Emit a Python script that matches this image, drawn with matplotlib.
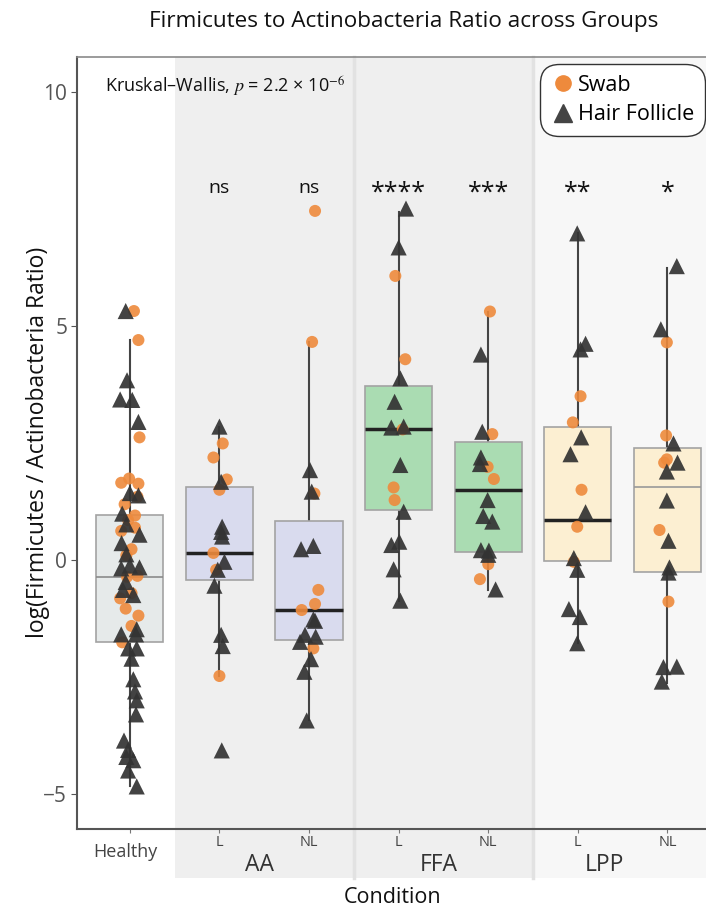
import matplotlib
matplotlib.use("Agg")
import matplotlib.pyplot as plt
import matplotlib.transforms as mtransforms
from matplotlib.lines import Line2D
from matplotlib.patches import Rectangle

plt.rcParams['font.family'] = ['Open Sans', 'DejaVu Sans']
plt.rcParams['mathtext.fontset'] = 'stix'

# groups in x order
groups = ["Healthy", "AA L", "AA NL", "FFA L", "FFA NL", "LPP L", "LPP NL"]
tick_labels = ["Healthy", "L", "NL", "L", "NL", "L", "NL"]
conditions = ["AA", "FFA", "LPP"]
signif = ["", "ns", "ns", "****", "***", "**", "*"]

# box statistics
q1 = [-1.76, -0.43, -1.72, 1.07, 0.18, -0.02, -0.25]
med = [-0.36, 0.15, -1.07, 2.79, 1.50, 0.85, 1.55]
q3 = [0.97, 1.55, 0.84, 3.72, 2.53, 2.85, 2.39]
whis_lo = [-4.84, -2.48, -3.43, -0.87, -0.64, -1.78, -2.64]
whis_hi = [4.70, 2.85, 4.66, 7.44, 5.31, 6.98, 6.23]

# swab samples (orange circles): values and horizontal offsets
swab_vals = [
    [5.32, 4.70, 2.62, 1.65, 1.74, 1.63, 1.35, 1.19, 0.95, 0.85, 0.69, 0.62,
     0.23, 0.10, -0.34, -0.36, -0.82, -0.71, -1.04, -1.19, -1.41, -1.76],
    [2.49, 2.19, 1.72, 1.50, 0.15, -0.21, -2.48],
    [7.46, 4.66, 1.42, -0.64, -0.94, -1.07, -1.89],
    [6.07, 4.29, 2.79, 1.55, 1.28],
    [5.31, 2.69, 1.99, 1.73, -0.09, -0.41],
    [3.50, 2.94, 1.50, 0.71, -0.04],
    [4.65, 2.66, 2.15, 2.08, 0.64, -0.89],
]
swab_dx = [
    [0.046, 0.096, 0.108, -0.096, -0.008, 0.096, 0.085, -0.058, 0.058, -0.019,
     0.058, -0.096, 0.019, -0.039, 0.085, -0.031, -0.108, 0.019, -0.046, 0.096,
     0.019, -0.085],
    [0.037, -0.067, 0.082, 0.0, -0.067, -0.037, 0.0],
    [0.067, 0.034, 0.060, 0.104, 0.067, -0.082, 0.048],
    [-0.037, 0.074, 0.045, -0.056, -0.045],
    [0.019, 0.045, -0.007, 0.063, 0.0, -0.093],
    [0.030, -0.056, 0.041, -0.007, -0.045],
    [-0.007, -0.015, -0.007, -0.037, -0.089, 0.011],
]

# hair follicle samples (dark triangles)
hair_vals = [
    [5.32, 3.84, 3.43, 3.42, 2.95, 1.43, 1.38, 0.99, 0.76, 0.54, 0.36, 0.12,
     -0.12, -0.18, -0.16, -0.47, -0.64, -0.75, -1.48, -1.59, -1.59, -1.89,
     -1.89, -2.11, -2.55, -2.81, -3.00, -3.30, -3.86, -4.06, -4.21, -4.28,
     -4.50, -4.84],
    [2.85, 1.67, 0.71, 0.60, 0.50, -0.04, -0.21, -0.55, -1.60, -1.84, -4.07],
    [1.92, 1.46, 0.23, 0.30, -1.27, -1.30, -1.60, -1.64, -1.75, -2.12, -2.39,
     -3.43],
    [7.51, 6.68, 3.88, 3.38, 2.83, 2.85, 2.03, 1.03, 0.32, 0.39, -0.20, -0.87],
    [4.39, 2.74, 2.19, 2.05, 1.28, 0.94, 0.82, 0.21, 0.20, 0.11, -0.63],
    [6.98, 4.62, 4.50, 2.62, 2.26, 1.02, 0.04, -0.21, -1.05, -1.22, -1.78],
    [6.28, 4.93, 2.49, 2.08, 1.89, 1.27, 0.41, -0.16, -0.27, -2.29, -2.28,
     -2.60],
]
hair_dx = [
    [-0.046, -0.031, -0.108, 0.027, 0.096, 0.0, 0.096, -0.085, -0.039, 0.108,
     -0.092, -0.039, 0.0, -0.096, 0.108, -0.046, -0.077, 0.039, 0.077, 0.069,
     -0.096, -0.019, 0.077, 0.019, 0.039, 0.058, 0.077, 0.069, -0.065, -0.019,
     -0.039, 0.039, -0.019, 0.077],
    [0.0, 0.019, 0.030, 0.019, 0.030, 0.056, -0.019, -0.056, 0.019, 0.037,
     0.026],
    [0.011, 0.030, -0.089, 0.048, 0.048, 0.067, -0.045, 0.074, -0.100, 0.022,
     -0.052, -0.026],
    [0.082, 0.0, 0.019, -0.045, -0.082, 0.056, 0.019, 0.056, -0.082, 0.007,
     -0.056, 0.019],
    [-0.082, -0.067, -0.082, -0.093, -0.007, -0.056, 0.045, -0.082, 0.007,
     0.0, 0.082],
    [-0.007, 0.086, 0.030, 0.037, -0.082, 0.086, -0.045, -0.007, -0.100,
     0.022, -0.007],
    [0.104, -0.074, 0.067, 0.112, -0.007, -0.007, 0.011, 0.022, 0.011, -0.045,
     0.104, -0.063],
]

box_colors = ["#e6eaea", "#d9dbee", "#d9dbee", "#aadcb2", "#aadcb2",
              "#fcefd2", "#fcefd2"]
median_colors = ["#8a8a8a", "#222222", "#222222", "#222222", "#222222",
                 "#222222", "#999999"]
median_widths = [1.2, 2.5, 2.5, 2.5, 2.5, 2.5, 1.2]

fig = plt.figure(figsize=(7.06, 9.13), dpi=100)
ax = fig.add_axes([0.109, 0.092, 0.891, 0.8456])
ax.set_xlim(-0.59, 6.43)
ax.set_ylim(-5.75, 10.75)

# shaded condition bands, running down under the tick labels
trans = mtransforms.blended_transform_factory(ax.transData, ax.transAxes)
band_edges = [(0.5, 2.5, "#efefef"), (2.5, 4.5, "#efefef"), (4.5, 6.6, "#f7f7f7")]
for x0, x1, c in band_edges:
    ax.add_patch(Rectangle((x0, -0.064), x1 - x0, 1.064, transform=trans,
                           facecolor=c, edgecolor="none", clip_on=False,
                           zorder=0))
for xs in [2.5, 4.5]:
    ax.add_line(Line2D([xs, xs], [-0.064, 1.0], transform=trans,
                       color="#e2e2e2", lw=2.5, clip_on=False, zorder=0.5))

stats = []
for i in range(len(groups)):
    stats.append(dict(med=med[i], q1=q1[i], q3=q3[i], whislo=whis_lo[i],
                      whishi=whis_hi[i], fliers=[], label=groups[i]))

# whiskers as one line behind the boxes
for i in range(len(groups)):
    ax.plot([i, i], [whis_lo[i], whis_hi[i]], color="#444444", lw=1.5,
            zorder=1)

bp = ax.bxp(stats, positions=range(len(groups)), widths=0.75,
            patch_artist=True, showcaps=False, showfliers=False,
            whiskerprops=dict(linewidth=0), zorder=2)
for i, box in enumerate(bp["boxes"]):
    box.set_facecolor(box_colors[i])
    box.set_edgecolor("#a3a3a3")
    box.set_linewidth(1.2)
for i, m in enumerate(bp["medians"]):
    m.set_color(median_colors[i])
    m.set_linewidth(median_widths[i])

for i in range(len(groups)):
    ax.scatter([i + d for d in swab_dx[i]], swab_vals[i], s=75,
               color="#ee8a3c", alpha=0.9, edgecolors="none", zorder=3)
    ax.scatter([i + d for d in hair_dx[i]], hair_vals[i], marker="^", s=135,
               color="#333333", alpha=0.92, edgecolors="none", zorder=4)

# significance labels (stars drawn a bit larger than "ns")
for i, lab in enumerate(signif):
    if lab == "ns":
        ax.text(i, 7.95, lab, ha="center", va="center", fontsize=14,
                color="#111111", zorder=5)
    elif lab:
        ax.text(i, 7.85, lab, ha="center", va="center", fontsize=18,
                color="#111111", zorder=5)

ax.text(0.045, 0.977, r"Kruskal–Wallis, $p$ = 2.2 × 10$^{-6}$",
        transform=ax.transAxes, ha="left", va="top", fontsize=13,
        color="#111111")

# axes styling
for side in ["left", "bottom"]:
    ax.spines[side].set_color("#555555")
    ax.spines[side].set_linewidth(1.5)
ax.spines["top"].set_color("#8a8a8a")
ax.spines["top"].set_linewidth(1.2)
ax.spines["right"].set_visible(False)

ax.set_yticks([-5, 0, 5, 10])
ax.set_yticklabels(["\u22125", "0", "5", "10"])
ax.tick_params(axis="y", labelsize=15, colors="#555555", length=4,
               labelcolor="#555555", pad=3)
ax.set_xticks(range(len(groups)))
ax.set_xticklabels([])
ax.tick_params(axis="x", length=3, colors="#777777")

for i, lab in enumerate(tick_labels):
    if i == 0:
        ax.text(i - 0.05, -0.03, lab, transform=trans, ha="center",
                va="center", fontsize=13, color="#444444")
    else:
        ax.text(i, -0.018, lab, transform=trans, ha="center", va="center",
                fontsize=10.5, color="#444444")
for x, lab in zip([1.45, 3.45, 5.3], conditions):
    ax.text(x, -0.047, lab, transform=trans, ha="center", va="center",
            fontsize=16.5, color="#333333")

fig.text(0.556, 0.0175, "Condition", ha="center", va="center", fontsize=15.5,
         color="#111111")
fig.text(0.054, 0.515, "log(Firmicutes / Actinobacteria Ratio)",
         rotation=90, ha="center", va="center", fontsize=16.5, color="#111111")
fig.text(0.572, 0.976, "Firmicutes to Actinobacteria Ratio across Groups",
         ha="center", va="center", fontsize=16.2, color="#111111")

handles = [
    Line2D([], [], marker="o", ls="none", color="#ee8a3c", markersize=11,
           label="Swab"),
    Line2D([], [], marker="^", ls="none", color="#444444", markersize=13,
           label="Hair Follicle"),
]
leg = ax.legend(handles=handles, loc="upper right",
                bbox_to_anchor=(0.998, 0.991), fontsize=15.5, frameon=True,
                fancybox=True, edgecolor="#333333", framealpha=1,
                handletextpad=0.15, borderpad=0.5, labelspacing=0.4,
                handlelength=1.1, borderaxespad=0)
leg.get_frame().set_linewidth(1.0)
leg.get_frame().set_boxstyle("round", pad=0.0, rounding_size=0.9)

fig.savefig("out.png", dpi=100)
